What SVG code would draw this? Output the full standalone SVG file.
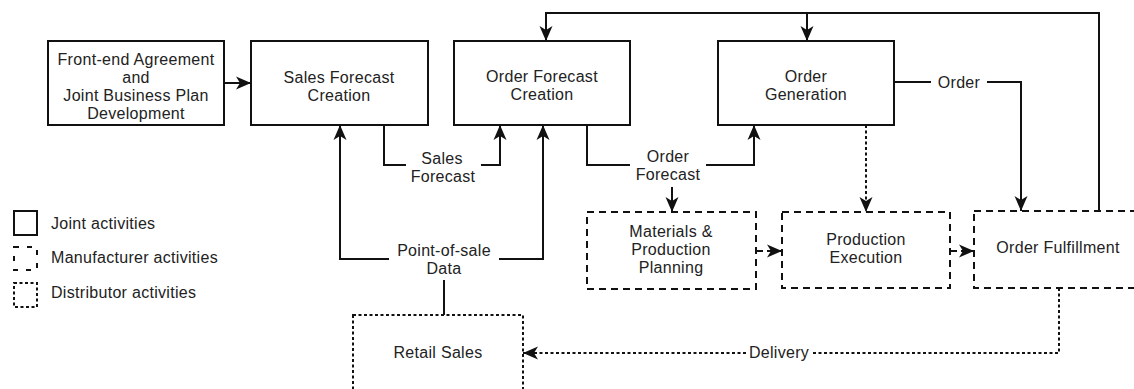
<svg xmlns="http://www.w3.org/2000/svg" width="1134" height="389" viewBox="0 0 1134 389">
  <style>
    .box { fill: #fff; stroke: #111; stroke-width: 2; }
    .mfr { stroke-dasharray: 7 5; }
    .dist { stroke-dasharray: 3 2.5; }
    .txt { font-family: "Liberation Sans", Arial, sans-serif; font-size: 16px; letter-spacing: 0.3px; fill: #222; text-anchor: middle; }
    .leg { font-family: "Liberation Sans", Arial, sans-serif; font-size: 16px; letter-spacing: 0.3px; fill: #222; }
    .ln { fill: none; stroke: #111; stroke-width: 2; }
    .dot { stroke-dasharray: 3 2.5; }
    .dash { stroke-dasharray: 6 4; }
  </style>
  <defs>
    <marker id="arrow" markerUnits="userSpaceOnUse" markerWidth="15" markerHeight="13" refX="15" refY="6.5" orient="auto" overflow="visible">
      <path d="M0,0 L15,6.5 L0,13 L4,6.5 Z" fill="#111"/>
    </marker>
  </defs>

  <rect width="1134" height="389" fill="#fff"/>

  <!-- connectors -->
  <g id="connectors">
    <!-- agreement to sales forecast -->
    <path class="ln" d="M224,83 H251" marker-end="url(#arrow)"/>
    <!-- sales forecast -->
    <path class="ln" d="M384,125 V165 H406"/>
    <path class="ln" d="M481,165 H500 V125" marker-end="url(#arrow)"/>
    <!-- order forecast -->
    <path class="ln" d="M587,125 V165 H630"/>
    <path class="ln" d="M706,165 H754 V125" marker-end="url(#arrow)"/>
    <path class="ln" d="M672,187 V212" marker-end="url(#arrow)"/>
    <!-- point-of-sale data -->
    <path class="ln" d="M389,259 H340 V125" marker-end="url(#arrow)"/>
    <path class="ln" d="M499,259 H543 V125" marker-end="url(#arrow)"/>
    <path class="ln" d="M444,280 V315"/>
    <!-- order -->
    <path class="ln" d="M894,82 H931"/>
    <path class="ln" d="M987,82 H1021 V211" marker-end="url(#arrow)"/>
    <!-- feedback loop from fulfillment -->
    <path class="ln" d="M1099,211 V13 H546 V41" marker-end="url(#arrow)"/>
    <path class="ln" d="M807,13 V41" marker-end="url(#arrow)"/>
    <!-- order generation to production execution -->
    <path class="ln dot" d="M866,125 V212" marker-end="url(#arrow)"/>
    <!-- manufacturer chain -->
    <path class="ln dash" d="M757,251 H782" marker-end="url(#arrow)"/>
    <path class="ln dash" d="M951,251 H974" marker-end="url(#arrow)"/>
    <!-- delivery -->
    <path class="ln dot" d="M1059,288 V353 H812"/>
    <path class="ln dot" d="M746,353 H523" marker-end="url(#arrow)"/>
  </g>

  <!-- connector labels -->
  <g id="labels">
    <text class="txt" x="442" y="164">Sales</text>
    <text class="txt" x="443" y="182">Forecast</text>
    <text class="txt" x="668" y="162">Order</text>
    <text class="txt" x="668" y="180">Forecast</text>
    <text class="txt" x="444" y="256">Point-of-sale</text>
    <text class="txt" x="444" y="274">Data</text>
    <text class="txt" x="959" y="88">Order</text>
    <text class="txt" x="779" y="358">Delivery</text>
  </g>

  <g id="agreement">
    <rect class="box" x="48" y="41" width="176" height="84"/>
    <text class="txt" x="136" y="65">Front-end Agreement</text>
    <text class="txt" x="136" y="83">and</text>
    <text class="txt" x="136" y="101">Joint Business Plan</text>
    <text class="txt" x="136" y="119">Development</text>
  </g>

  <g id="sales-forecast">
    <rect class="box" x="251" y="41" width="177" height="84"/>
    <text class="txt" x="339" y="83">Sales Forecast</text>
    <text class="txt" x="339" y="101">Creation</text>
  </g>

  <g id="order-forecast">
    <rect class="box" x="454" y="41" width="176" height="84"/>
    <text class="txt" x="542" y="82">Order Forecast</text>
    <text class="txt" x="542" y="100">Creation</text>
  </g>

  <g id="order-generation">
    <rect class="box" x="718" y="41" width="176" height="84"/>
    <text class="txt" x="806" y="82">Order</text>
    <text class="txt" x="806" y="100">Generation</text>
  </g>

  <g id="materials-planning">
    <rect class="box mfr" x="587" y="212" width="169" height="77"/>
    <text class="txt" x="671" y="237">Materials &amp;</text>
    <text class="txt" x="671" y="255">Production</text>
    <text class="txt" x="671" y="273">Planning</text>
  </g>

  <g id="production-execution">
    <rect class="box mfr" x="782" y="212" width="168" height="76"/>
    <text class="txt" x="866" y="245">Production</text>
    <text class="txt" x="866" y="263">Execution</text>
  </g>

  <g id="order-fulfillment">
    <rect class="box mfr" x="974" y="211" width="180" height="77"/>
    <text class="txt" x="1058" y="253">Order Fulfillment</text>
  </g>

  <g id="retail-sales">
    <rect class="box dist" x="353" y="315" width="170" height="90"/>
    <text class="txt" x="438" y="358">Retail Sales</text>
  </g>

  <!-- key -->
  <g id="legend">
    <rect class="box" x="14" y="211" width="23" height="24"/>
    <text class="leg" x="51" y="229">Joint activities</text>
    <rect class="box mfr" x="14" y="247" width="23" height="23" style="stroke-dasharray:5 8"/>
    <text class="leg" x="51" y="263">Manufacturer activities</text>
    <rect class="box dist" x="14" y="283" width="23" height="24"/>
    <text class="leg" x="51" y="298">Distributor activities</text>
  </g>
</svg>
